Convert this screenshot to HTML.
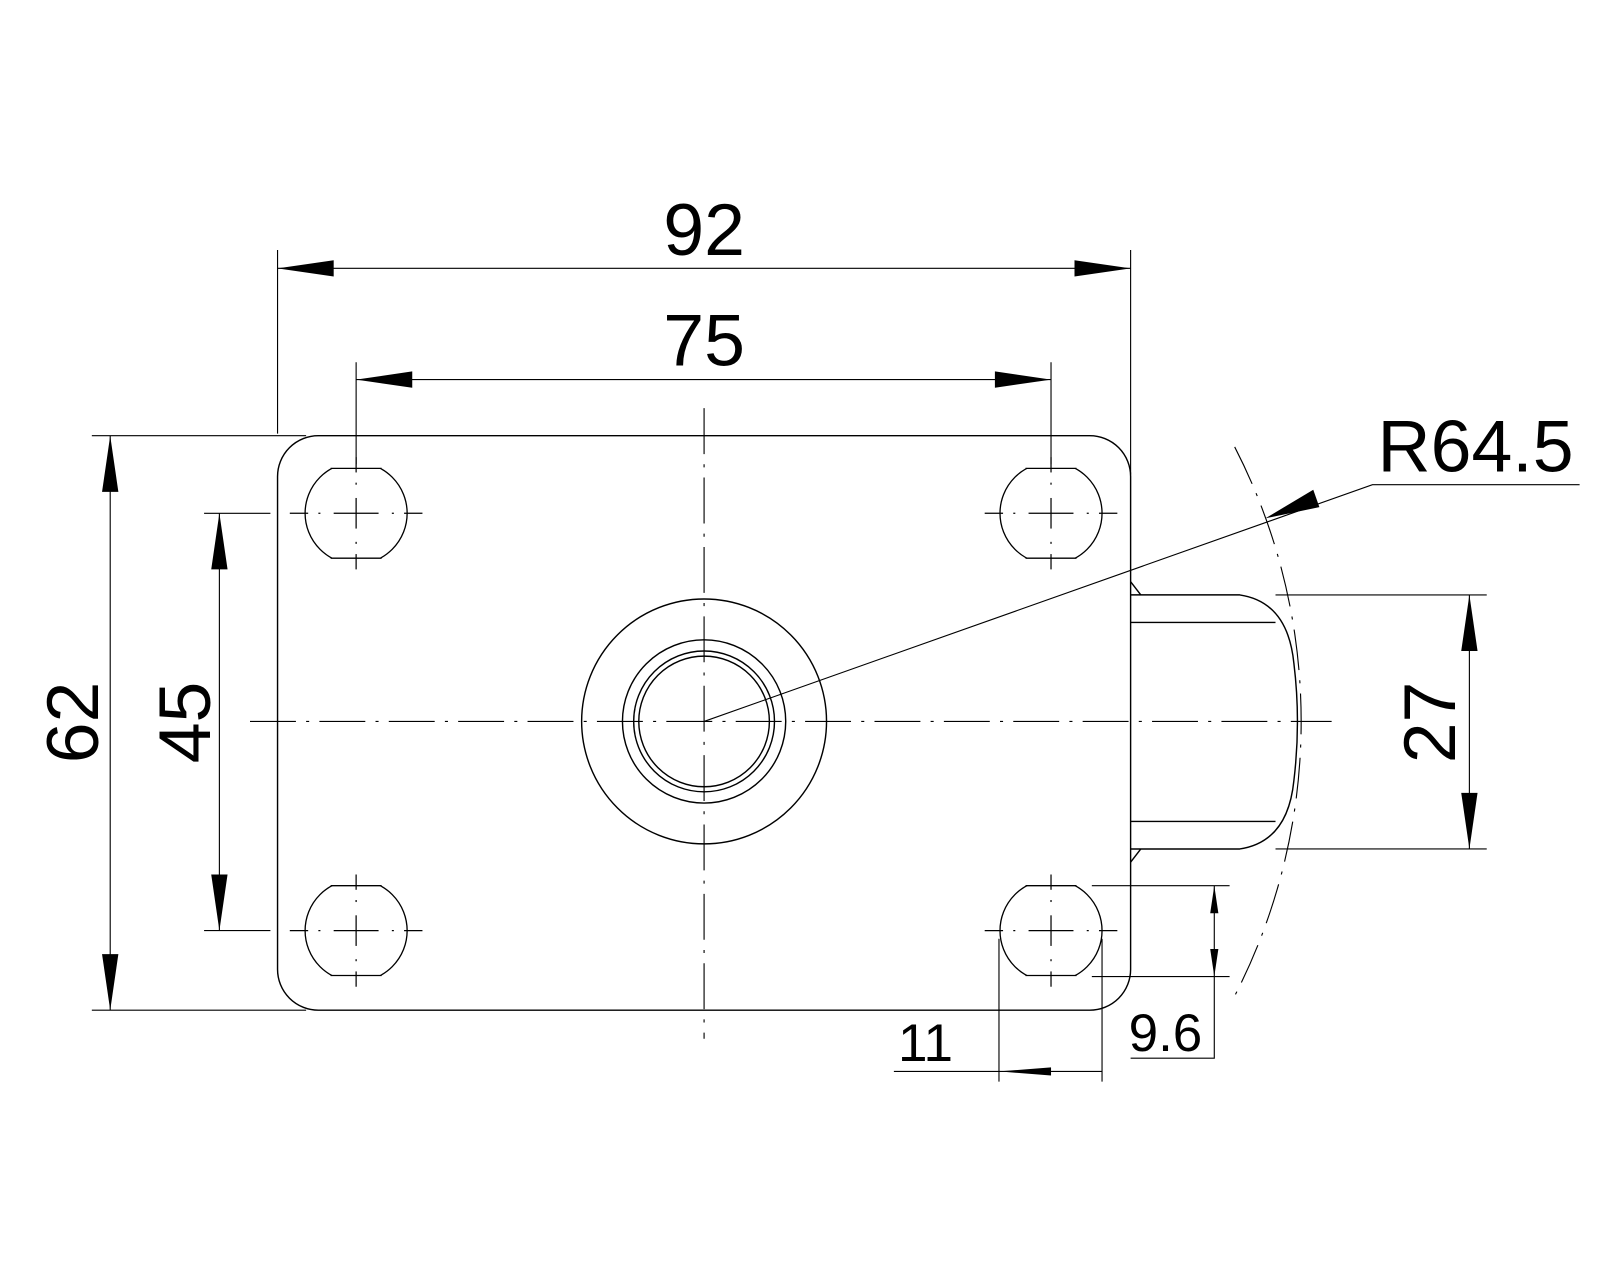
<!DOCTYPE html>
<html><head><style>
html,body{margin:0;padding:0;background:#fff;}
svg{display:block;}
text{font-family:"Liberation Sans",Arial,sans-serif;fill:#000;}
</style></head><body>
<svg width="1600" height="1280" viewBox="0 0 1568 1254.4" preserveAspectRatio="none" xmlns="http://www.w3.org/2000/svg">
<defs>
<clipPath id="hc"><rect x="-60" y="-44" width="120" height="88"/></clipPath>
<g id="hole">
<circle cx="0" cy="0" r="50" fill="none" stroke="#000" stroke-width="1.3" clip-path="url(#hc)"/>
<line x1="-25" y1="-44" x2="25" y2="-44" stroke="#000" stroke-width="1.3"/>
<line x1="-25" y1="44" x2="25" y2="44" stroke="#000" stroke-width="1.3"/>
<g stroke="#000" stroke-width="1.2">
<line x1="-65" y1="0" x2="-47" y2="0"/><line x1="-37" y1="0" x2="-35" y2="0"/><line x1="-22" y1="0" x2="22" y2="0"/><line x1="35" y1="0" x2="37" y2="0"/><line x1="47" y1="0" x2="65" y2="0"/>
<line x1="0" y1="-55" x2="0" y2="-40"/><line x1="0" y1="-30" x2="0" y2="-28"/><line x1="0" y1="-15" x2="0" y2="15"/><line x1="0" y1="28" x2="0" y2="30"/><line x1="0" y1="40" x2="0" y2="55"/>
</g>
</g>
</defs>
<g fill="none" stroke="#000" stroke-width="1.4">
<rect x="272" y="427" width="836" height="563" rx="40"/>
<circle cx="690" cy="707" r="120"/>
<circle cx="690" cy="707" r="80"/>
<circle cx="690" cy="707" r="69"/>
<circle cx="690" cy="707" r="64"/>
<path d="M1108 583 H1215 Q1262 590 1268 650 Q1275 707 1268 765 Q1262 825 1215 832 H1108"/>
<line x1="1108" y1="610" x2="1250" y2="610"/>
<line x1="1108" y1="805" x2="1250" y2="805"/>
<line x1="1108" y1="570" x2="1118" y2="583"/>
<line x1="1108" y1="845" x2="1118" y2="832"/>
</g>
<g stroke="#000" stroke-width="1.1" fill="none">
<line x1="245" y1="707" x2="1305" y2="707" stroke-dasharray="45,10,3,10"/>
<line x1="690" y1="400" x2="690" y2="1018" stroke-dasharray="45,10,3,10"/>
<path d="M1210 438 A588 588 0 0 1 1210 976" stroke-dasharray="40,10,3,10"/>
<line x1="272" y1="245" x2="272" y2="425"/>
<line x1="1108" y1="245" x2="1108" y2="465"/>
<line x1="272" y1="263" x2="1108" y2="263"/>
<line x1="349" y1="355" x2="349" y2="455"/>
<line x1="1030" y1="355" x2="1030" y2="455"/>
<line x1="349" y1="372" x2="1030" y2="372"/>
<line x1="90" y1="427" x2="300" y2="427"/>
<line x1="90" y1="990" x2="300" y2="990"/>
<line x1="108" y1="427" x2="108" y2="990"/>
<line x1="200" y1="503" x2="265" y2="503"/>
<line x1="200" y1="912" x2="265" y2="912"/>
<line x1="215" y1="503" x2="215" y2="912"/>
<line x1="1250" y1="583" x2="1457" y2="583"/>
<line x1="1250" y1="832" x2="1457" y2="832"/>
<line x1="1440" y1="583" x2="1440" y2="832"/>
<polyline points="690,707 1345,475 1548,475"/>
<line x1="1070" y1="868" x2="1205" y2="868"/>
<line x1="1070" y1="957" x2="1205" y2="957"/>
<polyline points="1190,868 1190,1037 1108,1037"/>
<line x1="979" y1="920" x2="979" y2="1060"/>
<line x1="1080" y1="920" x2="1080" y2="1060"/>
<line x1="876" y1="1050" x2="1080" y2="1050"/>
</g>
<g fill="#000">
<polygon points="272,263 327,255 327,271"/>
<polygon points="1108,263 1053,255 1053,271"/>
<polygon points="349,372 404,364 404,380"/>
<polygon points="1030,372 975,364 975,380"/>
<polygon points="108,427 100,482 116,482"/>
<polygon points="108,990 100,935 116,935"/>
<polygon points="215,503 207,558 223,558"/>
<polygon points="215,912 207,857 223,857"/>
<polygon points="1440,583 1432,638 1448,638"/>
<polygon points="1440,832 1432,777 1448,777"/>
<polygon points="1240,508 1287,480 1293,497"/>
<polygon points="1190,868 1186,895 1194,895"/>
<polygon points="1190,957 1186,930 1194,930"/>
<polygon points="979,1050 1030,1046 1030,1054"/>
</g>
<use href="#hole" x="349" y="503"/>
<use href="#hole" x="1030" y="503"/>
<use href="#hole" x="349" y="912"/>
<use href="#hole" x="1030" y="912"/>
<text x="690" y="250" font-size="72" text-anchor="middle">92</text>
<text x="690" y="358" font-size="72" text-anchor="middle">75</text>
<text x="1350" y="462" font-size="72">R64.5</text>
<text transform="translate(96,708) rotate(-90)" font-size="72" text-anchor="middle">62</text>
<text transform="translate(206,708) rotate(-90)" font-size="72" text-anchor="middle">45</text>
<text transform="translate(1426,708) rotate(-90)" font-size="72" text-anchor="middle">27</text>
<text x="1106" y="1030" font-size="52">9.6</text>
<text x="880" y="1040" font-size="52">11</text>
</svg>
</body></html>
